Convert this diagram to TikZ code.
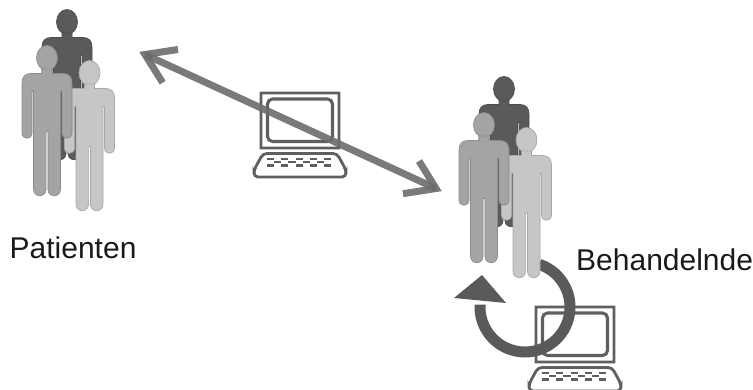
\documentclass[tikz,border=0pt]{standalone}
\usepackage{fontspec}
\setmainfont{Liberation Sans}
\definecolor{cDark}{HTML}{5A5A58}
\definecolor{cMid}{HTML}{A4A4A2}
\definecolor{cLight}{HTML}{C6C6C4}
\definecolor{cLine}{HTML}{5F5F5D}
\definecolor{cArrow}{HTML}{6C6C6A}
\tikzset{
  x=1pt,y=-1pt,
  lbl/.style={font=\fontsize{30}{32}\selectfont,text=black!90,inner sep=0pt,anchor=base west},
  personpic/.pic={
    \path[draw=#1!85!black,fill=#1,line width=.7pt]
      (0,0) ellipse [x radius=10.5,y radius=12.5];
    \path[draw=#1!85!black,fill=#1,line width=.7pt]
      (-5,11) -- (-5,15.5) -- (-16,15.5) .. controls (-22,15.5) and (-25,19) .. (-25,25)
      -- (-25,75) .. controls (-25,82) and (-15,82) .. (-15,75) -- (-15,34)
      .. controls (-15,32.5) and (-13.5,32.5) .. (-13.5,34) -- (-13.5,131)
      .. controls (-13.5,140) and (-.9,140) .. (-.9,131) -- (-.9,74)
      .. controls (-.9,72.5) and (.9,72.5) .. (.9,74) -- (.9,131)
      .. controls (.9,140) and (13.5,140) .. (13.5,131) -- (13.5,34)
      .. controls (13.5,32.5) and (15,32.5) .. (15,34) -- (15,75)
      .. controls (15,82) and (25,82) .. (25,75) -- (25,25)
      .. controls (25,19) and (22,15.5) .. (16,15.5) -- (5,15.5) -- (5,11) -- cycle;
  },
  group/.pic={
    \pic at (20,-36) {personpic=cDark};
    \pic at (42.5,15) {personpic=cLight};
    \pic at (0,0) {personpic=cMid};
  },
  screenline/.style={draw=cLine,line width=2.8pt},
  laptop/.pic={
    \fill[cLine,even odd rule] (-1.4,-1.4) rectangle (79.4,56.4) (1.4,1.4) rectangle (76.6,53.6);
    \draw[screenline,line width=3.1pt,rounded corners=5pt] (6.5,6) rectangle (71.5,48.5);
    \draw[screenline,rounded corners=4pt] (-7,84) -- (-7,77) -- (2,60.5) -- (76,60.5) -- (85,77) -- (85,84) -- cycle;
    \foreach \x in {6,20.3,34.6,48.9,63.2}{
      \draw[cLine,line width=2.3pt] (\x,66) -- ++(7,0);
      \draw[cLine,line width=2.3pt] (\x,72.5) -- ++(7,0);
    }
    \foreach \x in {13,27.3,41.6,55.9}{
      \draw[cLine,line width=2.3pt] (\x,69.2) -- ++(7.3,0);
    }
  }
}
\begin{document}
\begin{tikzpicture}
\useasboundingbox (0,0) rectangle (753,390);
\coordinate (pa) at (47,58);
\coordinate (pb) at (484,125);
\coordinate (l1) at (261,93);
\coordinate (l2) at (536,307);
\coordinate (d1) at (145,54.5);
\coordinate (d2) at (436,188.5);
\coordinate (c) at (525,307);
\pic at (pa) {group};
\pic at (l1) {laptop};
\pic at (l2) {laptop};
\draw[cDark,line width=11pt] (c) ++(-71.6:45) arc [start angle=-71.6,end angle=183,radius=45];
\fill[cDark] (454,298) -- (482,275) -- (506,303) -- cycle;
\pic at (pb) {group};
\draw[cArrow,opacity=.9,line width=7pt] (d1) -- (d2);
\draw[cArrow,opacity=.9,line width=7pt,line join=miter] (178,49.5) -- (d1) -- (162.7,82.7);
\draw[cArrow,opacity=.9,line width=7pt,line join=miter] (403,193.7) -- (d2) -- (419,161);
\node[lbl] (t1) at (9.5,259) {Patienten};
\node[lbl] (t2) at (576,271) {Behandelnde};
\end{tikzpicture}
\end{document}
